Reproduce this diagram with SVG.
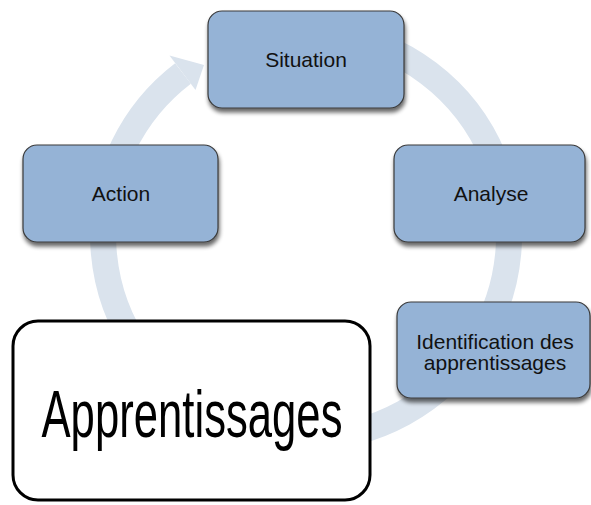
<svg xmlns="http://www.w3.org/2000/svg" width="591" height="505" viewBox="0 0 591 505">
  <defs>
    <filter id="shadow" x="-10%" y="-10%" width="125%" height="135%">
      <feGaussianBlur in="SourceAlpha" stdDeviation="2.2"/>
      <feOffset dx="1" dy="4" result="b"/>
      <feComponentTransfer><feFuncA type="linear" slope="0.6"/></feComponentTransfer>
      <feMerge><feMergeNode/><feMergeNode in="SourceGraphic"/></feMerge>
    </filter>
  </defs>
  <style>
    .ring { fill: none; stroke: #dae3ed; stroke-width: 26; }
    .head { fill: #dae3ed; }
    .node rect { fill: #95b3d6; stroke: #3a3a3a; stroke-width: 1.2; filter: url(#shadow); }
    .node text { font-family: "Liberation Sans", Arial, sans-serif; font-size: 21px; fill: #111; text-anchor: middle; }
    .big rect { fill: #ffffff; stroke: #000000; stroke-width: 3; }
    .big text { font-family: "Liberation Sans Narrow", "Liberation Sans", Arial, sans-serif; font-size: 66px; fill: #000; text-anchor: middle; }
  </style>
  <rect width="591" height="505" fill="#ffffff"/>
  <g id="connectors">
    <path class="ring" d="M 236.6 44.2 A 203 203 0 1 1 183.0 73.5"/>
    <polygon class="head" points="169.5,55.5 204,65 195.5,90"/>
  </g>
  <g id="node-situation" class="node">
    <rect x="208" y="11" width="196" height="97" rx="14"/>
    <text x="306" y="67">Situation</text>
  </g>
  <g id="node-action" class="node">
    <rect x="23" y="145" width="195" height="97" rx="14"/>
    <text x="121" y="201">Action</text>
  </g>
  <g id="node-analyse" class="node">
    <rect x="394" y="145" width="191" height="97" rx="14"/>
    <text x="491" y="201">Analyse</text>
  </g>
  <g id="node-identification" class="node">
    <rect x="397" y="302" width="193" height="96" rx="14"/>
    <text x="495" y="349">Identification des</text>
    <text x="495" y="370">apprentissages</text>
  </g>
  <g id="node-apprentissages" class="big">
    <rect x="13" y="321" width="357" height="179" rx="25"/>
    <text x="192" y="437" textLength="301" lengthAdjust="spacingAndGlyphs">Apprentissages</text>
  </g>
</svg>
